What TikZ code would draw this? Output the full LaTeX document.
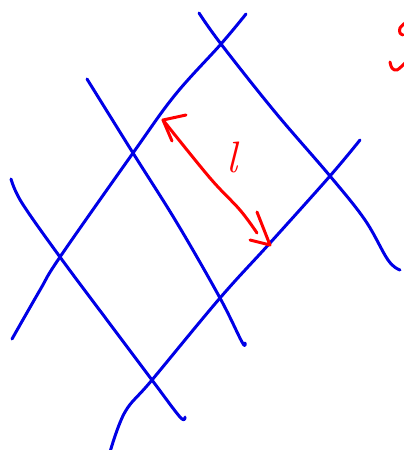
\documentclass[tikz,border=0pt]{standalone}
\begin{document}
\begin{tikzpicture}[x=1pt,y=-1pt,
  bl/.style={draw={rgb,255:red,0;green,0;blue,230},line width=3pt,line cap=round,line join=round},
  rd/.style={draw={rgb,255:red,255;green,0;blue,0},line width=3pt,line cap=round,line join=round}]
\useasboundingbox (0,0) rectangle (404,450);
\clip (0,0) rectangle (404,450);
% "/" lines
\draw[bl] plot[smooth,tension=0.6] coordinates {(246,14) (221,44) (175,95) (133,153) (60,257) (40,290) (12,339)};
\draw[bl] plot[smooth,tension=0.6] coordinates {(360,140) (330,176) (270,243) (220,298) (152,380) (125,412) (110,452)};
% "\" lines
\draw[bl] plot[smooth,tension=0.6] coordinates {(199,13) (221,44) (275,112) (330,176) (365,220) (388,260) (400,270)};
\draw[bl] plot[smooth,tension=0.6] coordinates {(87,79) (133,153) (177,223) (220,298) (242,342) (245,343)};
\draw[bl] plot[smooth,tension=0.6] coordinates {(11,179) (22,203) (60,257) (107,320) (152,380) (180,417) (185,417)};
% red double arrow
\coordinate (ta) at (163,120);
\coordinate (tb) at (270,245);
\draw[rd] plot[smooth,tension=0.6] coordinates {(ta) (210,178) (240,210) (257,233)};
\draw[rd] (186,115) -- (ta) -- (172,141);
\draw[rd] (250,240) -- (tb) -- (257,212);
\node[text={rgb,255:red,255;green,0;blue,0},font=\fontsize{44}{44}\selectfont\itshape,anchor=center] (lab) at (232,157) {l};
% partial red mark at top right
\draw[rd] plot[smooth,tension=0.6] coordinates {(405,23) (400,28) (400,33) (403,35)};
\draw[rd] plot[smooth,tension=0.6] coordinates {(390,62) (392,68) (397,70) (405,63)};
\end{tikzpicture}
\end{document}
